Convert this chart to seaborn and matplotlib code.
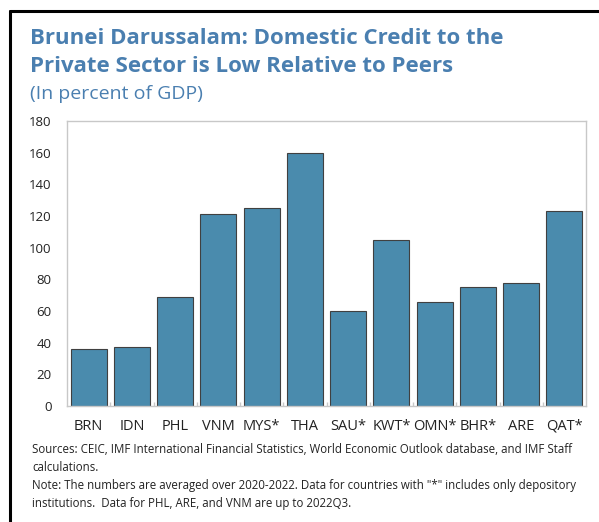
import matplotlib
matplotlib.use("Agg")
import matplotlib.pyplot as plt
import seaborn as sns
import pandas as pd
from matplotlib.lines import Line2D

countries = ["BRN", "IDN", "PHL", "VNM", "MYS*", "THA", "SAU*", "KWT*", "OMN*", "BHR*", "ARE", "QAT*"]
credit = [36, 37, 69, 121, 125, 160, 60, 105, 66, 75, 78, 123]
yticks = [0, 20, 40, 60, 80, 100, 120, 140, 160, 180]

title = "Brunei Darussalam: Domestic Credit to the\nPrivate Sector is Low Relative to Peers"
subtitle = "(In percent of GDP)"
notes = ("Sources: CEIC, IMF International Financial Statistics, World Economic Outlook database, and IMF Staff\n"
         "calculations.\n"
         "Note: The numbers are averaged over 2020-2022. Data for countries with \"*\" includes only depository\n"
         "institutions.  Data for PHL, ARE, and VNM are up to 2022Q3.")

sns.set_theme(style="white")
plt.rcParams['font.family'] = ['Open Sans', 'DejaVu Sans']

df = pd.DataFrame({"country": countries, "credit": credit})

fig = plt.figure(figsize=(5.99, 5.22), dpi=100)
ax = fig.add_axes([67/599, 1-406/522, (586-67)/599, (406-121)/522])

sns.barplot(data=df, x="country", y="credit", color="#4a8bad", saturation=1,
            edgecolor="#404040", linewidth=0.8, width=0.83, ax=ax)

ax.set_ylim(0, 180)
ax.set_yticks(yticks)
ax.set_xlim(-0.5, len(countries) - 0.5)
ax.set_xlabel("")
ax.set_ylabel("")
for s in ax.spines.values():
    s.set_color("#c8c8c8")
    s.set_linewidth(1.0)
ax.tick_params(axis="y", direction="in", length=4, color="#c8c8c8", labelsize=9.5, pad=11, labelcolor="#222222")
ax.tick_params(axis="x", length=0, labelsize=10.5, pad=9, labelcolor="#222222")
# minor ticks between bars on x axis
ax.set_xticks([i + 0.5 for i in range(len(countries) - 1)], minor=True)
ax.tick_params(axis="x", which="minor", direction="in", length=3, color="#c8c8c8", bottom=True)

fig.text(30/599, 1-28/522, title, fontsize=16, fontweight="bold", color="#4a7fb0",
         va="top", ha="left", linespacing=1.42)
fig.text(30/599, 1-85/522, subtitle, fontsize=14, color="#4a7fb0", va="top", ha="left")
fig.text(32/599, 1-443/522, notes, fontsize=8.3, color="#222222", va="top", ha="left", linespacing=1.5)

# frame lines (top and left)
fig.add_artist(Line2D([10/599, 1], [1-11/522, 1-11/522], color="black", lw=2.2, transform=fig.transFigure))
fig.add_artist(Line2D([10/599, 10/599], [0, 1-11/522], color="black", lw=2.2, transform=fig.transFigure))

fig.savefig("out.png", dpi=100)
